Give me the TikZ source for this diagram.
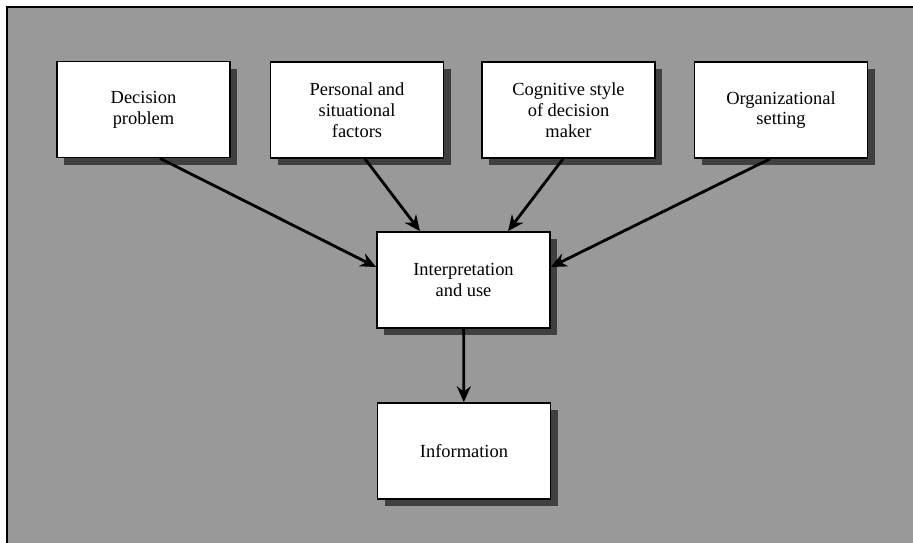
\documentclass[tikz,border=0pt]{standalone}
\usepackage{fontspec}
\setmainfont{Liberation Serif}
\usetikzlibrary{calc,shadows,arrows.meta}
\begin{document}
\begin{tikzpicture}[x=0.02cm,y=-0.02cm,
    factor/.style={draw,line width=1pt,fill=white,minimum width=3.46cm,minimum height=1.92cm,
        align=center,font=\fontsize{10.5}{11.8}\selectfont,
        drop shadow={shadow xshift=4pt,shadow yshift=-4pt,fill=black!75,opacity=1}},
    link/.style={-{Stealth[length=9pt,width=8pt]},line width=1.6pt}]
    \useasboundingbox (0,0) rectangle (913,542);
    \clip (0,0) rectangle (913,542);
    \fill[black!40] (7,7) rectangle (930,560);
    \draw[line width=1pt] (930,7) -- (7,7) -- (7,560);
    \node[factor] (dec) at (143.5,109.5) {Decision\\problem};
    \node[factor] (pers) at (357,110) {Personal and\\situational\\factors};
    \node[factor] (cog) at (568.5,110) {Cognitive style\\of decision\\maker};
    \node[factor] (org) at (781,110) {Organizational\\setting};
    \node[factor] (interp) at (463.5,280) {Interpretation\\and use};
    \node[factor] (info) at (464,451) {Information};
    \draw[link] ($(dec.south)+(16.5,0)$) -- ($(interp.west)+(0,-13)$);
    \draw[link] ($(pers.south)+(8,0)$) -- ($(interp.north)+(-43.5,0)$);
    \draw[link] ($(cog.south)+(-5.5,0)$) -- ($(interp.north)+(44.5,0)$);
    \draw[link] ($(org.south)+(-11,0)$) -- ($(interp.east)+(0,-13)$);
    \draw[link] (interp) -- (info);
\end{tikzpicture}
\end{document}
